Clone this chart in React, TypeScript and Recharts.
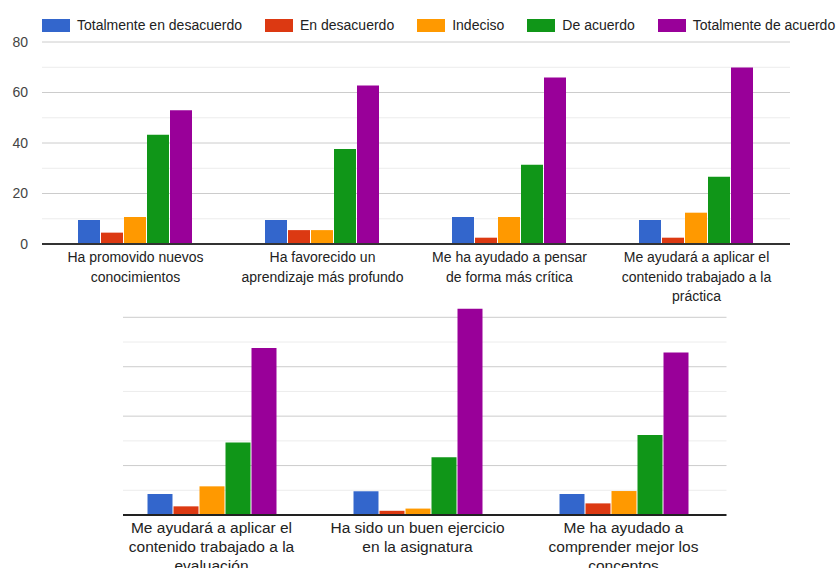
import React from "react";
import { BarChart, Bar, XAxis, YAxis, CartesianGrid, Legend } from "recharts";

// ---- data ----
const seriesNames = [
  "Totalmente en desacuerdo",
  "En desacuerdo",
  "Indeciso",
  "De acuerdo",
  "Totalmente de acuerdo",
];
const seriesColors = ["#3366cc", "#dc3912", "#ff9900", "#109618", "#990099"];

const topCategories = [
  "Ha promovido nuevos conocimientos",
  "Ha favorecido un aprendizaje más profundo",
  "Me ha ayudado a pensar de forma más crítica",
  "Me ayudará a aplicar el contenido trabajado a la práctica",
];
const topTickLines = [
  ["Ha promovido nuevos", "conocimientos"],
  ["Ha favorecido un", "aprendizaje más profundo"],
  ["Me ha ayudado a pensar", "de forma más crítica"],
  ["Me ayudará a aplicar el", "contenido trabajado a la", "práctica"],
];
const topTotDes = [9.5, 9.5, 10.7, 9.5];
const topDes = [4.5, 5.5, 2.5, 2.5];
const topInd = [10.7, 5.5, 10.7, 12.4];
const topAc = [43.3, 37.6, 31.4, 26.6];
const topTotAc = [53, 62.8, 65.9, 69.9];

const bottomCategories = [
  "Me ayudará a aplicar el contenido trabajado a la evaluación",
  "Ha sido un buen ejercicio en la asignatura",
  "Me ha ayudado a comprender mejor los conceptos",
];
const bottomTickLines = [
  ["Me ayudará a aplicar el", "contenido trabajado a la", "evaluación"],
  ["Ha sido un buen ejercicio", "en la asignatura"],
  ["Me ha ayudado a", "comprender mejor los", "conceptos"],
];
const bottomTotDes = [8.5, 9.6, 8.5];
const bottomDes = [3.5, 1.7, 4.7];
const bottomInd = [11.6, 2.6, 9.7];
const bottomAc = [29.3, 23.4, 32.4];
const bottomTotAc = [67.6, 83.5, 65.8];

const yTicks = [0, 20, 40, 60, 80];
const majorGrid = [20, 40, 60, 80];
const minorGrid = [10, 30, 50, 70];

const keys = ["s0", "s1", "s2", "s3", "s4"];

function buildRows(cats: string[], cols: number[][]) {
  return cats.map((name, i) => {
    const row: any = { name };
    cols.forEach((c, j) => (row[keys[j]] = c[i]));
    return row;
  });
}

const topData = buildRows(topCategories, [topTotDes, topDes, topInd, topAc, topTotAc]);
const bottomData = buildRows(bottomCategories, [
  bottomTotDes,
  bottomDes,
  bottomInd,
  bottomAc,
  bottomTotAc,
]);

const FONT = "Arial, 'Liberation Sans', sans-serif";

function makeTick(cats: string[], lines: string[][], fontSize: number, lineH: number, firstDy: number) {
  return (props: any) => {
    const { x, y, payload } = props;
    const idx = cats.indexOf(payload.value);
    const ls = idx >= 0 ? lines[idx] : [String(payload.value)];
    return (
      <text
        x={x}
        y={y}
        textAnchor="middle"
        fill="#222"
        fontSize={fontSize}
        fontFamily={FONT}
      >
        {ls.map((l, i) => (
          <tspan key={i} x={x} dy={i === 0 ? firstDy : lineH}>
            {l}
          </tspan>
        ))}
      </text>
    );
  };
}

const LegendContent = () => (
  <div
    style={{
      display: "flex",
      alignItems: "center",
      height: 20,
      whiteSpace: "nowrap",
      fontFamily: FONT,
      fontSize: 14,
      color: "#222",
    }}
  >
    {seriesNames.map((n, i) => (
      <div
        key={n}
        style={{ display: "flex", alignItems: "center", marginRight: i < seriesNames.length - 1 ? 23 : 0 }}
      >
        <div
          style={{
            width: 28,
            height: 13,
            background: seriesColors[i],
            marginRight: 7,
          }}
        />
        <span>{n}</span>
      </div>
    ))}
  </div>
);

export default function App() {
  return (
    <div
      style={{
        position: "absolute",
        left: 0,
        top: 0,
        width: 837,
        height: 568,
        background: "#fff",
        overflow: "hidden",
      }}
    >
      <div style={{ position: "absolute", left: 0, top: 280 }}>
        <BarChart
          width={837}
          height={288}
          data={bottomData}
          margin={{ top: 12.6, right: 110.5, left: 123, bottom: 0 }}
          barCategoryGap={39}
          barGap={1}
        >
          <CartesianGrid vertical={false} stroke="#ececec" horizontalValues={minorGrid} />
          <CartesianGrid vertical={false} stroke="#cccccc" horizontalValues={majorGrid} />
          <XAxis
            dataKey="name"
            interval={0}
            height={53}
            padding={{ left: -14.5, right: 0 }}
            tickLine={false}
            tickSize={0}
            tickMargin={0}
            axisLine={{ stroke: "#222", strokeWidth: 2 }}
            tick={makeTick(bottomCategories, bottomTickLines, 15.5, 19, 18)}
          />
          <YAxis hide domain={[0, 90]} ticks={[0, 10, 20, 30, 40, 50, 60, 70, 80]} />
          {keys.map((k, i) => (
            <Bar key={k} dataKey={k} name={seriesNames[i]} fill={seriesColors[i]} isAnimationActive={false} />
          ))}
        </BarChart>
      </div>
      <div style={{ position: "absolute", left: 0, top: 0 }}>
        <BarChart
          width={837}
          height={312}
          data={topData}
          margin={{ top: 22, right: 47, left: 12, bottom: 0 }}
          barCategoryGap={36}
          barGap={1}
        >
          <CartesianGrid vertical={false} stroke="#ececec" horizontalValues={minorGrid} />
          <CartesianGrid vertical={false} stroke="#cccccc" horizontalValues={majorGrid} />
          <Legend
            verticalAlign="top"
            align="left"
            content={LegendContent}
            wrapperStyle={{ top: 15, left: 42, width: 800 }}
          />
          <XAxis
            dataKey="name"
            interval={0}
            height={68}
            tickLine={false}
            tickSize={0}
            tickMargin={0}
            axisLine={{ stroke: "#333", strokeWidth: 2 }}
            tick={makeTick(topCategories, topTickLines, 14, 19.5, 18)}
          />
          <YAxis
            domain={[0, 80]}
            ticks={yTicks}
            width={30}
            axisLine={false}
            tickLine={false}
            tickMargin={8}
            tick={{ fill: "#444", fontSize: 14, fontFamily: FONT }}
          />
          {keys.map((k, i) => (
            <Bar key={k} dataKey={k} name={seriesNames[i]} fill={seriesColors[i]} isAnimationActive={false} />
          ))}
        </BarChart>
      </div>
    </div>
  );
}
